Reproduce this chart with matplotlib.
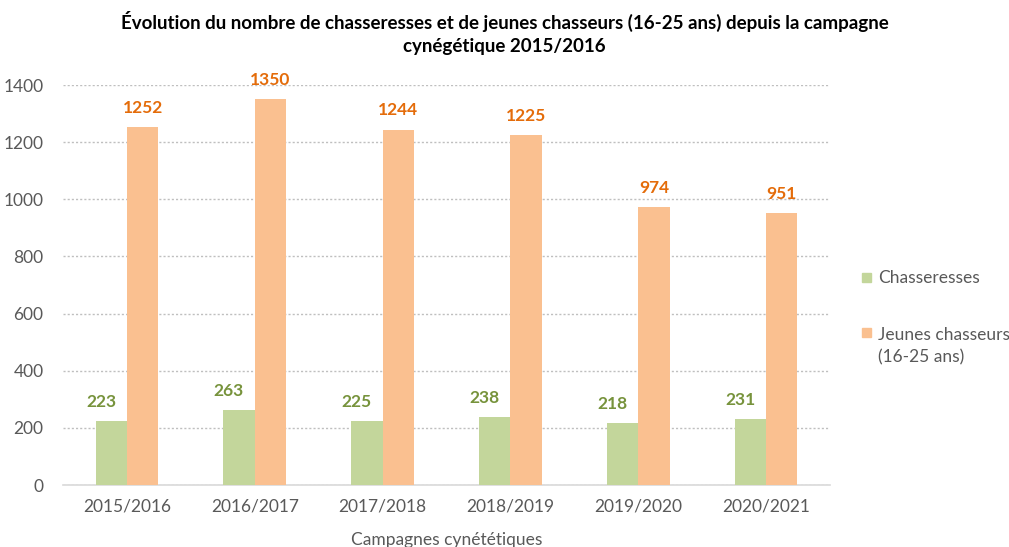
import matplotlib
matplotlib.use("Agg")
import matplotlib.pyplot as plt
import numpy as np
from matplotlib.patches import Rectangle

categories = ["2015/2016", "2016/2017", "2017/2018", "2018/2019", "2019/2020", "2020/2021"]
chasseresses = [223, 263, 225, 238, 218, 231]
jeunes = [1252, 1350, 1244, 1225, 974, 951]
series_names = ["Chasseresses", "Jeunes chasseurs\n(16-25 ans)"]
title = "Évolution du nombre de chasseresses et de jeunes chasseurs (16-25 ans) depuis la campagne\ncynégétique 2015/2016"
xlabel = "Campagnes cynététiques"

plt.rcParams['font.family'] = ['Lato', 'DejaVu Sans']

green = "#C3D69B"
orange = "#FAC090"
green_txt = "#77933C"
orange_txt = "#E46C0A"
gray = "#595959"

W, H = 1009, 547
fig = plt.figure(figsize=(W/100, H/100), dpi=100)
ax = fig.add_axes([63/W, 1-485/H, (830-63)/W, 400/H])

x = np.arange(len(categories))
w = 0.245
b1 = ax.bar(x - w/2, chasseresses, w, color=green, zorder=3)
b2 = ax.bar(x + w/2, jeunes, w, color=orange, zorder=3)

for rect, v in zip(b1, chasseresses):
    ax.annotate(str(v), (rect.get_x() + rect.get_width()/2 - 0.08, v), xytext=(0, 8),
                textcoords="offset points", ha="center", va="bottom",
                color=green_txt, fontsize=12.5, fontweight="bold")
for rect, v in zip(b2, jeunes):
    ax.annotate(str(v), (rect.get_x() + rect.get_width()/2, v), xytext=(0, 8),
                textcoords="offset points", ha="center", va="bottom",
                color=orange_txt, fontsize=12.5, fontweight="bold")

ax.set_xlim(-0.5, len(categories) - 0.5)
ax.set_ylim(0, 1400)
ax.set_yticks(range(0, 1401, 200))
ax.yaxis.grid(True, linestyle=(0, (1.5, 1.5)), color="#BFBFBF", linewidth=1, zorder=0)
for s in ["top", "right", "left"]:
    ax.spines[s].set_visible(False)
ax.spines["bottom"].set_color("#D9D9D9")
ax.spines["bottom"].set_linewidth(1.2)
ax.tick_params(axis="both", length=0, labelsize=12.5, colors=gray, pad=10)
ax.tick_params(axis="y", pad=14)
ax.set_xticks(x)
ax.set_xticklabels(categories)
ax.set_xlabel(xlabel, color=gray, fontsize=12.5, labelpad=12)

fig.text(0.5, 0.94, title, ha="center", va="center", fontsize=13.5, fontweight="bold",
         color="black", linespacing=1.4)

# legend drawn manually
fig.patches.append(Rectangle((862/W, 1-282/H), 9/W, 9/H, transform=fig.transFigure,
                             color=green, figure=fig))
fig.text(878/W, 1-278/H, series_names[0], ha="left", va="center", color=gray, fontsize=12.5)
fig.patches.append(Rectangle((862/W, 1-337/H), 9/W, 9/H, transform=fig.transFigure,
                             color=orange, figure=fig))
fig.text(878/W, 1-327/H, series_names[1], ha="left", va="top", color=gray, fontsize=12.5,
         linespacing=1.45, transform=fig.transFigure)

fig.savefig("out.png", dpi=100)
